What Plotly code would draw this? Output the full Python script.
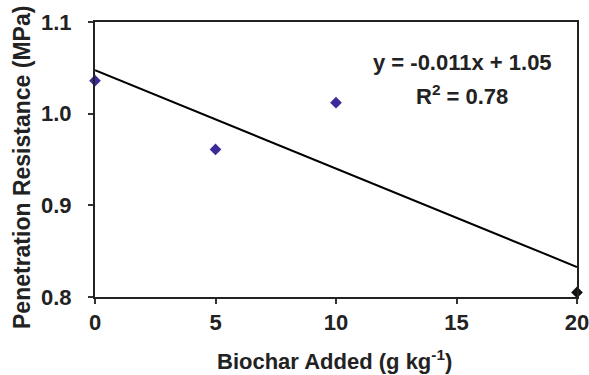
import numpy as np
import plotly.graph_objects as go

biochar = [0, 5, 10, 20]
resistance = [1.036, 0.961, 1.012, 0.805]
marker_colors = ["#3b2b99", "#3b2b99", "#3b2b99", "#111111"]
x_ticks = [0, 5, 10, 15, 20]
y_ticks = [0.8, 0.9, 1.0, 1.1]
y_tick_labels = ["0.8", "0.9", "1.0", "1.1"]
x_title = "Biochar Added (g kg<sup>-1</sup>)"
y_title = "Penetration Resistance (MPa)"

slope, intercept = np.polyfit(biochar, resistance, 1)
fit_x = [0, 20]
fit_y = [intercept + slope * v for v in fit_x]

FONT = "Arial, Liberation Sans, sans-serif"
TXT = "#222222"

L, R, T, B = 95, 12, 22, 78
W, H = 589, 375
pw, ph = W - L - R, H - T - B


def px_x(v):
    return (v - L) / pw


def px_y(v):
    return 1 - (v - T) / ph


fig = go.Figure()
fig.add_trace(go.Scatter(x=fit_x, y=fit_y, mode="lines",
                         line=dict(color="black", width=2), showlegend=False))
fig.add_trace(go.Scatter(x=biochar, y=resistance, mode="markers",
                         marker=dict(symbol="diamond", size=9, color=marker_colors),
                         cliponaxis=False, showlegend=False))

fig.add_annotation(x=px_x(462), y=px_y(62), xref="paper", yref="paper",
                   text="y = -0.011x + 1.05", showarrow=False,
                   xanchor="center", yanchor="middle",
                   font=dict(family=FONT, size=22, color=TXT, weight="bold"))
fig.add_annotation(x=px_x(462), y=px_y(95), xref="paper", yref="paper",
                   text="R<sup>2</sup> = 0.78", showarrow=False,
                   xanchor="center", yanchor="middle",
                   font=dict(family=FONT, size=22, color=TXT, weight="bold"))
fig.add_annotation(x=px_x(334), y=px_y(360), xref="paper", yref="paper",
                   text=x_title, showarrow=False,
                   xanchor="center", yanchor="middle",
                   font=dict(family=FONT, size=22, color=TXT, weight="bold"))
fig.add_annotation(x=px_x(22), y=px_y(168), xref="paper", yref="paper",
                   text=y_title, showarrow=False, textangle=-90,
                   xanchor="center", yanchor="middle",
                   font=dict(family=FONT, size=23, color=TXT, weight="bold"))

fig.update_layout(
    width=W, height=H,
    margin=dict(l=L, r=R, t=T, b=B),
    plot_bgcolor="white", paper_bgcolor="white",
    font=dict(family=FONT, size=22, color=TXT),
    xaxis=dict(range=[0, 20], tickvals=x_ticks, ticks="outside", ticklen=5,
               tickwidth=1.5, tickcolor="#333", showgrid=False, zeroline=False,
               showline=True, linecolor="#222", linewidth=2, mirror=True,
               automargin=False, ticklabeloverflow="allow",
               tickfont=dict(size=22, weight="bold"), ticklabelstandoff=0),
    yaxis=dict(range=[0.8, 1.1], tickvals=y_ticks, ticktext=y_tick_labels,
               ticks="outside", ticklen=5, tickwidth=1.5, tickcolor="#333",
               showgrid=False, zeroline=False, showline=True, linecolor="#222",
               linewidth=2, mirror=True, automargin=False,
               tickfont=dict(size=22, weight="bold"),
               ticklabelstandoff=12),
)

fig.write_html("out.html", config={"displayModeBar": False},
               post_script="document.body.style.margin='0';document.body.style.overflow='hidden';")
